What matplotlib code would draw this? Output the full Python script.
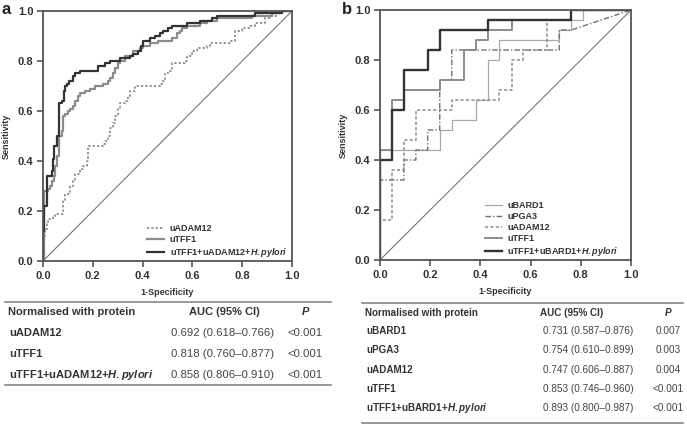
import matplotlib.pyplot as plt

plt.rcParams['font.family'] = ['Liberation Sans', 'DejaVu Sans']
plt.rcParams['mathtext.fontset'] = 'custom'
plt.rcParams['mathtext.it'] = 'Liberation Sans:italic:bold'
plt.rcParams['mathtext.rm'] = 'Liberation Sans:bold'

# ---- panel a: step points (x where curve rises, new sensitivity) ----
a_adam_x = [0, 0, 0.005, 0.01, 0.015, 0.02, 0.04, 0.05, 0.08, 0.09, 0.11, 0.12, 0.13, 0.15, 0.16, 0.175,
            0.18, 0.24, 0.25, 0.26, 0.27, 0.28, 0.29, 0.30, 0.31, 0.33, 0.34, 0.35, 0.37, 0.47, 0.48,
            0.49, 0.50, 0.52, 0.56, 0.57, 0.58, 0.60, 0.62, 0.66, 0.67, 0.74, 0.75, 0.77, 0.80, 0.83,
            0.85, 0.89, 0.91, 0.94, 0.96, 1.0]
a_adam_y = [0, 0.08, 0.10, 0.13, 0.15, 0.17, 0.18, 0.19, 0.24, 0.27, 0.30, 0.32, 0.35, 0.37, 0.38, 0.40,
            0.46, 0.47, 0.48, 0.50, 0.53, 0.55, 0.58, 0.61, 0.63, 0.64, 0.66, 0.68, 0.70, 0.71, 0.72,
            0.75, 0.76, 0.79, 0.79, 0.80, 0.82, 0.84, 0.85, 0.86, 0.87, 0.87, 0.88, 0.92, 0.93, 0.94,
            0.95, 0.97, 0.98, 0.99, 1.0, 1.0]

a_tff_x = [0, 0.005, 0.02, 0.03, 0.035, 0.045, 0.05, 0.055, 0.065, 0.075, 0.08, 0.09, 0.10, 0.11, 0.12,
           0.13, 0.14, 0.15, 0.17, 0.19, 0.21, 0.24, 0.26, 0.27, 0.28, 0.29, 0.30, 0.31, 0.33, 0.36,
           0.39, 0.40, 0.43, 0.46, 0.52, 0.54, 0.55, 0.56, 0.58, 0.63, 0.66, 0.70, 0.84, 0.92, 0.96, 1.0]
a_tff_y = [0, 0.28, 0.29, 0.30, 0.32, 0.34, 0.38, 0.42, 0.50, 0.52, 0.58, 0.59, 0.60, 0.61, 0.62,
           0.64, 0.66, 0.67, 0.68, 0.69, 0.70, 0.71, 0.72, 0.73, 0.75, 0.77, 0.79, 0.80, 0.82, 0.84,
           0.85, 0.86, 0.87, 0.88, 0.89, 0.91, 0.92, 0.93, 0.94, 0.95, 0.96, 0.97, 0.98, 0.99, 1.0, 1.0]

a_comb_x = [0, 0, 0.005, 0.017, 0.035, 0.04, 0.045, 0.055, 0.066, 0.076, 0.084, 0.09, 0.095, 0.106,
            0.12, 0.13, 0.15, 0.22, 0.25, 0.27, 0.31, 0.35, 0.36, 0.38, 0.395, 0.40, 0.43, 0.45,
            0.47, 0.48, 0.50, 0.52, 0.58, 0.63, 0.68, 0.70, 0.85, 0.96, 1.0]
a_comb_y = [0, 0.12, 0.22, 0.34, 0.36, 0.41, 0.46, 0.50, 0.63, 0.64, 0.68, 0.70, 0.71, 0.72,
            0.74, 0.75, 0.76, 0.78, 0.79, 0.80, 0.81, 0.82, 0.83, 0.84, 0.86, 0.88, 0.89, 0.90,
            0.91, 0.92, 0.93, 0.94, 0.95, 0.96, 0.97, 0.98, 0.99, 1.0, 1.0]

# ---- panel b: corner points ----
b_bard_x = [0, 0, 0.238, 0.238, 0.286, 0.286, 0.381, 0.381, 0.429, 0.429, 0.476, 0.476, 0.714, 0.714,
            0.762, 0.762, 0.810, 0.810, 1.0]
b_bard_y = [0, 0.44, 0.44, 0.52, 0.52, 0.56, 0.56, 0.64, 0.64, 0.80, 0.80, 0.88, 0.88, 0.92,
            0.92, 0.96, 0.96, 1.0, 1.0]

b_pga_x = [0, 0, 0.095, 0.095, 0.143, 0.143, 0.190, 0.190, 0.238, 0.238, 0.286, 0.286, 0.714, 0.714,
           0.762, 1.0]
b_pga_y = [0, 0.32, 0.32, 0.40, 0.40, 0.44, 0.44, 0.52, 0.52, 0.72, 0.72, 0.84, 0.84, 0.92,
           0.92, 1.0]

b_adam_x = [0, 0, 0.048, 0.048, 0.095, 0.095, 0.143, 0.143, 0.286, 0.286, 0.476, 0.476, 0.524, 0.524,
            0.571, 0.571, 0.667, 0.667, 0.762, 0.762, 1.0]
b_adam_y = [0, 0.16, 0.16, 0.36, 0.36, 0.48, 0.48, 0.60, 0.60, 0.64, 0.64, 0.68, 0.68, 0.80,
            0.80, 0.84, 0.84, 0.96, 0.96, 1.0, 1.0]

b_tff_x = [0, 0, 0.048, 0.048, 0.095, 0.095, 0.238, 0.238, 0.333, 0.333, 0.381, 0.381, 0.429, 0.429,
           0.524, 0.524, 0.762, 0.762, 1.0]
b_tff_y = [0, 0.44, 0.44, 0.64, 0.64, 0.68, 0.68, 0.72, 0.72, 0.84, 0.84, 0.88, 0.88, 0.92,
           0.92, 0.96, 0.96, 1.0, 1.0]

b_comb_x = [0, 0, 0.048, 0.048, 0.095, 0.095, 0.190, 0.190, 0.238, 0.238, 0.429, 0.429, 0.762, 0.762, 1.0]
b_comb_y = [0, 0.40, 0.40, 0.60, 0.60, 0.76, 0.76, 0.84, 0.84, 0.92, 0.92, 0.96, 0.96, 1.0, 1.0]

PYLORI = '$\\it{H{.}pylori}$'

# ---- tables ----
a_rows = ['uADAM12', 'uTFF1', 'uTFF1+uADAM12+' + PYLORI]
a_auc = ['0.692 (0.618\u20130.766)', '0.818 (0.760\u20130.877)', '0.858 (0.806\u20130.910)']
a_p = ['<0.001', '<0.001', '<0.001']

b_rows = ['uBARD1', 'uPGA3', 'uADAM12', 'uTFF1', 'uTFF1+uBARD1+' + PYLORI]
b_auc = ['0.731 (0.587\u20130.876)', '0.754 (0.610\u20130.899)', '0.747 (0.606\u20130.887)',
         '0.853 (0.746\u20130.960)', '0.893 (0.800\u20130.987)']
b_p = ['0.007', '0.003', '0.004', '<0.001', '<0.001']

W, H = 687, 426
fig = plt.figure(figsize=(W / 100, H / 100), dpi=100)

TXT = '#333333'
SPINE = '#555555'


def px_axes(x0, y0, x1, y1):
    return fig.add_axes([x0 / W, 1 - y1 / H, (x1 - x0) / W, (y1 - y0) / H])


def style(ax):
    ax.set_xlim(0, 1)
    ax.set_ylim(0, 1)
    ticks = [0, 0.2, 0.4, 0.6, 0.8, 1.0]
    ax.set_xticks(ticks)
    ax.set_yticks(ticks)
    ax.set_xticklabels(['%.1f' % t for t in ticks])
    ax.set_yticklabels(['%.1f' % t for t in ticks])
    ax.tick_params(direction='out', length=4, width=1.2, color=SPINE, labelsize=8,
                   labelcolor=TXT, pad=3)
    for lab in ax.get_xticklabels() + ax.get_yticklabels():
        lab.set_fontweight('bold')
    for s in ax.spines.values():
        s.set_color(SPINE)
        s.set_linewidth(1.3)
    ax.plot([0, 1], [0, 1], color='#777777', lw=0.8, zorder=1)
    ax.set_xlabel('1-Specificity', fontsize=6.5, fontweight='bold', color=TXT, labelpad=5)
    ax.set_ylabel('Sensitivity', fontsize=6.5, fontweight='bold', color=TXT, labelpad=5)


def legend(ax, spacing):
    leg = ax.legend(loc='lower left', bbox_to_anchor=(0.418, 0.008), fontsize=6.5, frameon=False,
                    handlelength=1.9, labelspacing=spacing, borderaxespad=0, borderpad=0,
                    handletextpad=0.6)
    for t in leg.get_texts():
        t.set_fontweight('bold')
        t.set_color(TXT)


# panel a
ax1 = px_axes(43, 11, 292, 261)
ax1.plot(a_adam_x, a_adam_y, drawstyle='steps-post', color='#8a8a8a', lw=1.3, ls=(0, (1.2, 1.2)),
         label='uADAM12')
ax1.plot(a_tff_x, a_tff_y, drawstyle='steps-post', color='#8c8c8c', lw=1.6, label='uTFF1')
ax1.plot(a_comb_x, a_comb_y, drawstyle='steps-post', color='#333333', lw=1.6,
         label='uTFF1+uADAM12+' + PYLORI)
style(ax1)
legend(ax1, 0.2)

# panel b
ax2 = px_axes(380, 10, 631, 260)
ax2.plot(b_bard_x, b_bard_y, color='#a8a8a8', lw=0.9, label='uBARD1')
ax2.plot(b_pga_x, b_pga_y, color='#707070', lw=1.0, ls=(0, (4, 1.5, 1, 1.5)), label='uPGA3')
ax2.plot(b_adam_x, b_adam_y, color='#8a8a8a', lw=1.1, ls=(0, (2, 1.5)), label='uADAM12')
ax2.plot(b_tff_x, b_tff_y, color='#8c8c8c', lw=1.4, label='uTFF1')
ax2.plot(b_comb_x, b_comb_y, color='#333333', lw=1.7, label='uTFF1+uBARD1+' + PYLORI)
style(ax2)
legend(ax2, 0.22)

# panel letters
fig.text(2 / W, 1 - 10 / H, 'a', fontsize=12, fontweight='bold', va='center', ha='left', color='#222222')
fig.text(342 / W, 1 - 10 / H, 'b', fontsize=12, fontweight='bold', va='center', ha='left', color='#222222')


def table(x0, x1, top, row_y, bottom, names, aucs, ps, auc_x, auc_hx, p_x, fs):
    fy = lambda y: 1 - y / H
    fig.add_artist(plt.Line2D([x0 / W, x1 / W], [fy(top), fy(top)], color='#888888', lw=1.2))
    fig.add_artist(plt.Line2D([x0 / W, x1 / W], [fy(bottom), fy(bottom)], color='#888888', lw=1.2))
    hy = fy(top + 10)
    fig.text((x0 + 3) / W, hy, 'Normalised with protein', fontsize=fs, fontweight='bold',
             color=TXT, va='center', ha='left')
    fig.text(auc_hx / W, hy, 'AUC (95% CI)', fontsize=fs, fontweight='bold',
             color=TXT, va='center', ha='center')
    fig.text(p_x / W, hy, 'P', fontsize=fs, fontweight='bold', style='italic',
             color=TXT, va='center', ha='center')
    for i, (n, a, p) in enumerate(zip(names, aucs, ps)):
        y = fy(row_y[i])
        fig.text((x0 + 4) / W, y, n, fontsize=fs, fontweight='bold', color=TXT,
                 va='center', ha='left')
        fig.text(auc_x / W, y, a, fontsize=fs * 1.02, color='#444444', va='center', ha='left')
        fig.text(p_x / W, y, p, fontsize=fs * 1.02, color='#444444', va='center', ha='center')


table(5, 331, 302, [333, 354, 375], 385, a_rows, a_auc, a_p, 171, 224, 305, 8.0)
table(362, 683, 303, [331, 350, 370, 389, 408], 423, b_rows, b_auc, b_p, 543, 572, 668, 7.1)

fig.savefig('out.png', dpi=100)
